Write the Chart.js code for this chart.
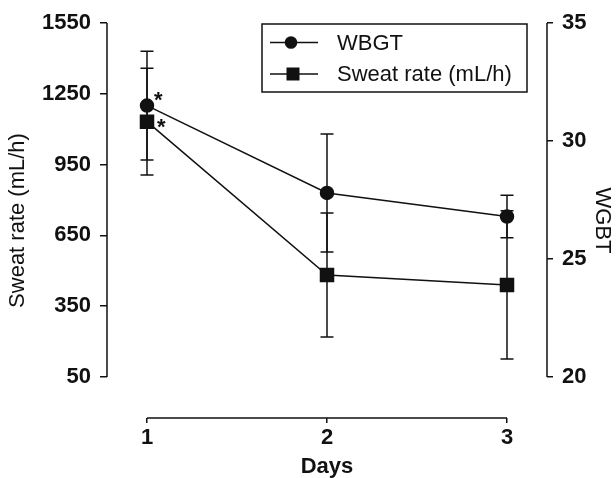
<!DOCTYPE html>
<html>
<head>
<meta charset="utf-8">
<script src="https://cdn.jsdelivr.net/npm/chart.js@4.4.1/dist/chart.umd.min.js"></script>
<style>
html, body { margin: 0; padding: 0; background: #fff; }
#wrap { width: 616px; height: 478px; }
</style>
</head>
<body>
<div id="wrap"><canvas id="chart" width="616" height="478"></canvas></div>
<script>
// datos
const days = [1, 2, 3];
const wbgt = [31.5, 27.8, 26.8];
const wbgtErr = [2.3, 2.5, 0.9];
const sweat = [1132, 482, 440];
const sweatErr = [226, 263, 314];
const marked = [true, false, false]; // asterisco (*) en día 1
const sweatTicks = [50, 350, 650, 950, 1250, 1550];
const wbgtTicks = [20, 25, 30, 35];
const dayTicks = [1, 2, 3];

const INK = '#111';
const FONT = "'Liberation Sans', Arial, sans-serif";
Chart.defaults.font.family = FONT;
Chart.defaults.color = INK;

const ctx = document.getElementById('chart').getContext('2d');

// barras de error + asteriscos
const errorBars = {
    id: 'errorBars',
    beforeDatasetsDraw(chart) {
        const c = chart.ctx;
        c.save();
        c.strokeStyle = INK;
        c.lineWidth = 1.5;
        chart.data.datasets.forEach((ds, di) => {
            const meta = chart.getDatasetMeta(di);
            const ys = chart.scales[ds.yAxisID];
            meta.data.forEach((pt, i) => {
                const v = ds.data[i].y, e = ds.errors[i];
                const top = ys.getPixelForValue(v + e);
                const bot = ys.getPixelForValue(v - e);
                c.beginPath();
                c.moveTo(pt.x, top); c.lineTo(pt.x, bot);
                c.moveTo(pt.x - 6.5, top); c.lineTo(pt.x + 6.5, top);
                c.moveTo(pt.x - 6.5, bot); c.lineTo(pt.x + 6.5, bot);
                c.stroke();
            });
        });
        c.restore();
    },
    afterDatasetsDraw(chart) {
        const c = chart.ctx;
        c.save();
        c.fillStyle = INK;
        c.font = 'bold 22px ' + FONT;
        c.textBaseline = 'alphabetic';
        chart.data.datasets.forEach((ds, di) => {
            const meta = chart.getDatasetMeta(di);
            meta.data.forEach((pt, i) => {
                if (!marked[i]) return;
                const dx = di === 0 ? 7 : 10;
                const dy = di === 0 ? 1 : 12;
                c.fillText('*', pt.x + dx, pt.y + dy);
            });
        });
        c.restore();
    }
};

// líneas de ejes separadas (estilo "range frame")
const axisLines = {
    id: 'axisLines',
    afterDraw(chart) {
        const c = chart.ctx, a = chart.chartArea;
        const sy = chart.scales.y, sy1 = chart.scales.y1, sx = chart.scales.x;
        c.save();
        c.strokeStyle = INK;
        c.lineWidth = 1.5;
        c.beginPath();
        c.moveTo(a.left, sy.getPixelForValue(sweatTicks[0]));
        c.lineTo(a.left, sy.getPixelForValue(sweatTicks[sweatTicks.length - 1]));
        c.moveTo(a.right, sy1.getPixelForValue(wbgtTicks[0]));
        c.lineTo(a.right, sy1.getPixelForValue(wbgtTicks[wbgtTicks.length - 1]));
        c.moveTo(sx.getPixelForValue(dayTicks[0]), a.bottom);
        c.lineTo(sx.getPixelForValue(dayTicks[dayTicks.length - 1]), a.bottom);
        c.stroke();
        c.restore();
    }
};

// leyenda con línea + marcador
const boxLegend = {
    id: 'boxLegend',
    afterDraw(chart) {
        const c = chart.ctx;
        c.save();
        c.strokeStyle = INK;
        c.fillStyle = INK;
        c.lineWidth = 1.5;
        c.strokeRect(262, 24, 265, 68);
        const rows = [42.5, 74];
        chart.data.datasets.forEach((ds, i) => {
            const y = rows[i];
            c.beginPath();
            c.moveTo(270, y); c.lineTo(318, y);
            c.stroke();
            if (ds.pointStyle === 'circle') {
                c.beginPath();
                c.arc(291, y, 6.3, 0, Math.PI * 2);
                c.fill();
            } else {
                c.fillRect(293 - 6.5, y - 6.5, 13, 13);
            }
            c.font = '22px ' + FONT;
            c.textBaseline = 'middle';
            c.fillText(ds.label, 337, y + 1);
        });
        c.restore();
    }
};

const fixedTicks = arr => scale => { scale.ticks = arr.map(v => ({ value: v })); };

const chart = new Chart(ctx, {
    type: 'line',
    data: {
        datasets: [{
            label: 'WBGT',
            data: days.map((d, i) => ({ x: d, y: wbgt[i] })),
            errors: wbgtErr,
            yAxisID: 'y1',
            borderColor: INK,
            backgroundColor: INK,
            borderWidth: 1.5,
            pointStyle: 'circle',
            pointRadius: 6.5,
            pointHoverRadius: 6.5,
            tension: 0
        }, {
            label: 'Sweat rate (mL/h)',
            data: days.map((d, i) => ({ x: d, y: sweat[i] })),
            errors: sweatErr,
            yAxisID: 'y',
            borderColor: INK,
            backgroundColor: INK,
            borderWidth: 1.5,
            pointStyle: 'rect',
            pointRadius: 9.2,
            pointHoverRadius: 9.2,
            tension: 0
        }]
    },
    options: {
        responsive: false,
        animation: false,
        layout: { padding: { top: 23, left: 0, right: 0, bottom: 0 } },
        plugins: { legend: { display: false }, tooltip: { enabled: false } },
        scales: {
            x: {
                type: 'linear',
                min: 0.7778, max: 3.2222,
                afterBuildTicks: fixedTicks(dayTicks),
                afterFit: s => { s.height = 60; },
                border: { display: false },
                grid: { drawOnChartArea: false, drawTicks: true, tickLength: 5, color: INK, lineWidth: 1.5 },
                ticks: { font: { size: 22, weight: 'bold' }, padding: 2, callback: v => String(v) },
                title: { display: true, text: 'Days', font: { size: 22, weight: 'bold', lineHeight: 1 }, padding: 0 }
            },
            y: {
                position: 'left',
                min: -123.7, max: 1550,
                afterBuildTicks: fixedTicks(sweatTicks),
                afterFit: s => { s.width = 107; },
                border: { display: false },
                grid: { drawOnChartArea: false, drawTicks: true, tickLength: 7, color: INK, lineWidth: 1.5 },
                ticks: { font: { size: 22, weight: 'bold' }, padding: 9, callback: v => String(v) },
                title: { display: true, text: 'Sweat rate (mL/h)', font: { size: 22 }, padding: 5 }
            },
            y1: {
                position: 'right',
                min: 18.263, max: 35,
                afterBuildTicks: fixedTicks(wbgtTicks),
                afterFit: s => { s.width = 69; },
                border: { display: false },
                grid: { drawOnChartArea: false, drawTicks: true, tickLength: 6, color: INK, lineWidth: 1.5 },
                ticks: { font: { size: 22, weight: 'bold' }, padding: 9, callback: v => String(v) },
                title: { display: true, text: 'WGBT', font: { size: 22 }, padding: 1 }
            }
        }
    },
    plugins: [errorBars, axisLines, boxLegend]
});
</script>
</body>
</html>
